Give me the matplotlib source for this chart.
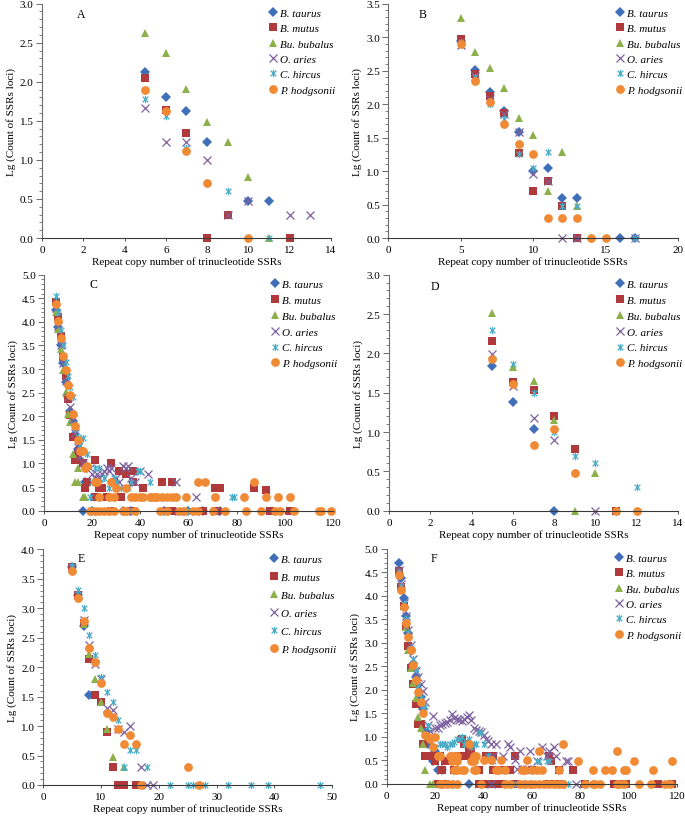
import matplotlib

matplotlib.use("Agg")
import matplotlib.pyplot as plt
from matplotlib.path import Path
from matplotlib.ticker import MultipleLocator, FormatStrFormatter

plt.rcParams["font.family"] = ["Liberation Serif", "DejaVu Serif"]

SPECIES = ["B. taurus", "B. mutus", "Bu. bubalus", "O. aries", "C. hircus", "P. hodgsonii"]
COLORS = ["#3F6FB8", "#B0393C", "#8CB04A", "#7E62A0", "#4BACC6", "#F08A35"]

# (repeat copy number, lg count) pairs
A_taurus = [(5, 2.13), (6, 1.80), (7, 1.62), (8, 1.23), (10, 0.48), (11, 0.48)]
A_mutus = [(5, 2.05), (6, 1.64), (7, 1.35), (8, 0.0), (9, 0.30), (12, 0.0)]
A_bubalus = [(5, 2.62), (6, 2.37), (7, 1.91), (8, 1.48), (9, 1.23), (10, 0.78), (11, 0.0)]
A_aries = [(5, 1.67), (6, 1.23), (7, 1.23), (8, 1.00), (9, 0.30), (10, 0.48), (12, 0.30), (13, 0.30)]
A_hircus = [(5, 1.78), (6, 1.56), (7, 1.15), (9, 0.60), (11, 0.0)]
A_hodgsonii = [(5, 1.89), (6, 1.62), (7, 1.11), (8, 0.70), (10, 0.0)]

B_taurus = [(5, 2.95), (6, 2.51), (7, 2.18), (8, 1.90), (9, 1.58), (10, 1.00), (11, 1.04), (12, 0.60),
            (13, 0.60), (16, 0.0), (17, 0.0)]
B_mutus = [(5, 2.97), (6, 2.45), (7, 2.12), (8, 1.86), (9, 1.27), (10, 0.70), (11, 0.85), (12, 0.48), (13, 0.0)]
B_bubalus = [(5, 3.28), (6, 2.78), (7, 2.54), (8, 2.24), (9, 1.80), (10, 1.54), (11, 0.70), (12, 1.28), (13, 0.48)]
B_aries = [(5, 2.89), (6, 2.42), (7, 2.08), (8, 1.85), (9, 1.58), (10, 0.95), (11, 0.85), (12, 0.0), (13, 0.0),
           (17, 0.0)]
B_hircus = [(5, 2.93), (6, 2.40), (7, 2.00), (8, 1.78), (9, 1.26), (10, 1.05), (11, 1.28), (12, 0.48), (13, 0.48),
            (17, 0.0)]
B_hodgsonii = [(5, 2.90), (6, 2.35), (7, 2.03), (8, 1.70), (9, 1.41), (10, 1.25), (11, 0.30), (12, 0.30),
               (13, 0.30), (14, 0.0), (15, 0.0)]

C_taurus = [(5, 4.25), (6, 3.90), (7, 3.52), (8, 3.13), (9, 2.72), (10, 2.40), (11, 2.12), (12, 1.90), (13, 1.62),
            (14, 1.30), (15, 1.08), (16, 1.00), (17, 0.60), (16, 0.0), (20, 0.0), (33, 0.0), (36, 0.0), (50, 0.0),
            (60, 0.0), (66, 0.0), (73, 0.0)]
C_mutus = [(5, 4.42), (6, 4.10), (7, 3.70), (8, 3.25), (9, 2.85), (10, 2.37), (11, 2.02), (12, 1.56), (13, 1.08),
           (14, 1.20), (15, 1.27), (16, 1.00), (17, 0.48), (18, 0.60), (21, 1.08), (21, 0.30), (23, 0.48),
           (24, 0.48), (26, 0.30), (28, 1.00), (29, 0.60), (31, 0.85), (32, 0.30), (34, 0.78), (37, 0.85),
           (37, 0.60), (41, 0.48), (49, 0.60), (53, 0.60), (71, 0.48), (73, 0.48), (87, 0.48), (92, 0.43),
           (28, 0.0), (36, 0.0), (51, 0.0), (53, 0.0), (66, 0.0), (72, 0.0), (94, 0.0), (102, 0.0)]
C_bubalus = [(5, 4.20), (6, 3.85), (7, 3.42), (8, 2.98), (9, 2.52), (10, 2.05), (11, 1.87), (12, 1.20), (13, 0.60),
             (14, 0.60), (14, 0.90), (16, 0.30), (17, 0.30)]
C_aries = [(5, 4.30), (6, 3.92), (7, 3.50), (8, 3.12), (9, 2.75), (10, 2.40), (11, 2.20), (12, 1.95), (13, 1.65),
           (14, 1.35), (15, 1.15), (16, 1.00), (19, 0.90), (20, 0.78), (21, 0.70), (22, 0.78), (23, 0.70),
           (24, 0.78), (25, 0.85), (26, 0.90), (27, 0.85), (28, 0.90), (30, 0.70), (31, 0.60), (33, 0.95),
           (34, 0.90), (35, 0.95), (36, 0.70), (38, 0.60), (40, 0.85), (43, 0.78), (55, 0.60), (63, 0.30),
           (37, 0.0), (56, 0.0), (71, 0.0)]
C_hircus = [(5, 4.55), (6, 4.20), (7, 3.82), (8, 3.52), (9, 3.15), (10, 2.85), (11, 2.62), (12, 2.40), (13, 1.72),
            (14, 1.57), (15, 1.40), (16, 1.55), (18, 1.20), (19, 0.30), (20, 0.60), (21, 0.90), (23, 0.90),
            (25, 0.70), (27, 0.48), (29, 0.70), (30, 0.60), (32, 0.48), (35, 0.48), (36, 0.60), (39, 0.85),
            (40, 0.85), (44, 0.60), (78, 0.30), (79, 0.30), (21, 0.0), (36, 0.0), (50, 0.0), (60, 0.0)]
C_hodgsonii = [(5, 4.37), (6, 4.02), (7, 3.65), (8, 3.28), (9, 2.97), (10, 2.67), (11, 2.46), (12, 2.05),
               (13, 1.80), (14, 1.50), (15, 1.27), (16, 1.27), (17, 0.90), (18, 0.95), (21, 0.60), (22, 0.60),
               (28, 0.60), (30, 0.48), (34, 0.48), (23, 0.30), (27, 0.30), (29, 0.30), (36, 0.30), (38, 0.30),
               (40, 0.30), (41, 0.30), (44, 0.30), (45, 0.30), (46, 0.30), (47, 0.30), (49, 0.30), (51, 0.30),
               (53, 0.30), (55, 0.30), (59, 0.30), (64, 0.60), (67, 0.60), (71, 0.30), (83, 0.30), (87, 0.60),
               (92, 0.30), (97, 0.30), (102, 0.30), (19, 0.0), (21, 0.0), (23, 0.0), (25, 0.0), (27, 0.0),
               (29, 0.0), (33, 0.0), (34, 0.0), (38, 0.0), (48, 0.0), (51, 0.0), (56, 0.0), (58, 0.0), (62, 0.0),
               (64, 0.0), (70, 0.0), (75, 0.0), (84, 0.0), (90, 0.0), (96, 0.0), (98, 0.0), (104, 0.0),
               (114, 0.0), (115, 0.0), (119, 0.0)]

D_taurus = [(5, 1.84), (6, 1.38), (7, 1.04), (8, 0.0)]
D_mutus = [(5, 2.16), (6, 1.63), (7, 1.53), (8, 1.20), (9, 0.78), (11, 0.0)]
D_bubalus = [(5, 2.51), (6, 1.83), (7, 1.65), (8, 1.15), (9, 0.0), (10, 0.48)]
D_aries = [(5, 1.99), (6, 1.58), (7, 1.18), (8, 0.90), (10, 0.0)]
D_hircus = [(5, 2.30), (6, 1.86), (7, 1.49), (8, 1.00), (9, 0.70), (10, 0.60), (12, 0.30)]
D_hodgsonii = [(5, 1.93), (6, 1.61), (7, 0.84), (8, 1.04), (9, 0.48), (11, 0.0), (12, 0.0)]

E_taurus = [(5, 3.70), (6, 3.22), (7, 2.70), (8, 1.53)]
E_mutus = [(5, 3.70), (6, 3.22), (7, 2.75), (8, 2.13), (9, 1.53), (10, 1.40), (11, 0.90), (12, 0.30), (13, 0.0),
           (14, 0.0), (16, 0.0)]
E_bubalus = [(5, 3.70), (6, 3.20), (7, 2.73), (8, 2.22), (9, 1.80), (10, 1.41), (11, 0.95), (12, 0.48), (14, 0.30)]
E_aries = [(5, 3.68), (6, 3.22), (7, 2.80), (8, 2.38), (9, 2.06), (10, 1.80), (11, 1.30), (12, 1.28), (13, 0.95),
           (14, 0.90), (15, 1.00), (17, 0.30), (18, 0.0), (19, 0.0)]
E_hircus = [(5, 3.72), (6, 3.31), (7, 3.00), (8, 2.54), (9, 2.20), (10, 1.83), (11, 1.58), (12, 1.40), (13, 1.11),
            (14, 0.30), (15, 0.60), (16, 0.60), (18, 0.30), (22, 0.0), (25, 0.0), (26, 0.0), (28, 0.0), (32, 0.0),
            (36, 0.0), (39, 0.0), (48, 0.0)]
E_hodgsonii = [(5, 3.64), (6, 3.18), (7, 2.78), (8, 2.33), (9, 2.09), (10, 1.73), (11, 1.23), (12, 1.15),
               (13, 0.95), (14, 0.70), (15, 0.85), (16, 0.70), (17, 0.0), (25, 0.30), (27, 0.0)]

F_taurus = [(5, 4.69), (6, 4.38), (7, 3.96), (8, 3.57), (9, 3.20), (10, 2.83), (11, 2.55), (12, 2.28), (13, 2.10),
            (14, 1.85), (15, 1.60), (16, 1.12), (17, 0.86), (19, 0.48), (20, 0.70), (21, 0.30), (23, 0.30),
            (34, 0.0)]
F_mutus = [(5, 4.52), (6, 4.18), (7, 3.78), (8, 3.35), (9, 2.93), (10, 2.47), (11, 2.12), (12, 1.69), (13, 1.28),
           (14, 1.28), (15, 0.85), (16, 0.60), (17, 0.60), (19, 0.60), (22, 0.60), (20, 0.48), (24, 0.48),
           (25, 0.48), (23, 0.30), (31, 0.96), (32, 0.85), (34, 0.71), (35, 0.71), (30, 0.60), (33, 0.60),
           (28, 0.30), (38, 0.30), (44, 0.30), (47, 0.30), (51, 0.30), (41, 0.60), (44, 0.60), (53, 0.60),
           (60, 0.30), (67, 0.60), (68, 0.48), (71, 0.30), (77, 0.30), (21, 0.0), (22, 0.0), (24, 0.0), (38, 0.0),
           (40, 0.0), (42, 0.0), (44, 0.0), (46, 0.0), (48, 0.0), (53, 0.0), (66, 0.0), (68, 0.0), (71, 0.0),
           (82, 0.0), (94, 0.0), (97, 0.0), (99, 0.0), (112, 0.0), (118, 0.0)]
F_bubalus = [(5, 4.50), (6, 4.20), (7, 3.80), (8, 3.33), (9, 2.85), (10, 2.47), (11, 2.15), (12, 1.83), (13, 1.42),
             (14, 1.18), (15, 0.85), (16, 0.30), (18, 0.0), (19, 0.0), (26, 0.0), (27, 0.0)]
F_aries = [(5, 4.55), (6, 4.25), (7, 3.85), (8, 3.58), (9, 3.27), (10, 2.95), (11, 2.65), (12, 2.40), (13, 2.28),
           (14, 2.12), (15, 1.98), (16, 1.75), (17, 1.26), (18, 1.12), (19, 1.45), (20, 1.18), (21, 1.20),
           (22, 1.25), (23, 1.28), (24, 1.30), (25, 1.32), (26, 1.35), (27, 1.49), (28, 1.40), (29, 1.38),
           (30, 1.36), (31, 1.33), (32, 1.38), (33, 1.42), (34, 1.47), (35, 1.35), (36, 1.20), (37, 1.15),
           (38, 1.13), (39, 1.10), (40, 1.05), (41, 0.95), (42, 0.92), (43, 0.85), (45, 0.85), (44, 0.60),
           (48, 0.60), (50, 0.85), (51, 0.78), (53, 0.50), (55, 0.71), (54, 0.32), (56, 0.32), (58, 0.32),
           (59, 0.71), (62, 0.48), (64, 0.78), (66, 0.60), (67, 0.71), (69, 0.78), (70, 0.60), (74, 0.48),
           (75, 0.48), (43, 0.0), (58, 0.0), (72, 0.0), (78, 0.0)]
F_hircus = [(5, 4.50), (6, 4.20), (7, 3.82), (8, 3.50), (9, 3.20), (10, 2.90), (11, 2.65), (12, 2.45), (13, 2.10),
            (14, 1.85), (15, 1.65), (16, 1.65), (17, 1.23), (18, 0.95), (20, 0.78), (22, 0.85), (23, 0.85),
            (24, 0.85), (25, 0.78), (26, 0.85), (27, 0.85), (28, 0.90), (29, 0.96), (30, 0.96), (31, 1.00),
            (32, 0.85), (33, 0.90), (34, 0.95), (35, 0.78), (36, 0.85), (37, 0.85), (38, 1.10), (39, 1.08),
            (40, 0.85), (42, 0.60), (44, 0.48), (46, 0.30), (47, 0.30), (48, 0.30), (49, 0.30), (62, 0.48),
            (63, 0.48), (66, 0.48), (67, 0.48), (28, 0.0), (52, 0.0), (54, 0.0), (75, 0.0), (83, 0.0),
            (95, 0.0), (97, 0.0)]
F_hodgsonii = [(5, 4.45), (6, 4.12), (7, 3.77), (8, 3.43), (9, 3.12), (10, 2.85), (11, 2.52), (12, 2.20),
               (13, 1.96), (14, 1.74), (15, 1.50), (16, 1.05), (17, 1.00), (18, 0.95), (19, 0.78), (20, 1.00),
               (21, 0.60), (22, 0.60), (26, 0.60), (27, 0.60), (28, 0.60), (29, 0.60), (36, 0.60), (37, 0.60),
               (27, 0.48), (29, 0.48), (35, 0.48), (36, 0.48), (40, 0.50), (43, 0.50), (47, 0.50), (58, 0.50),
               (34, 0.85), (63, 0.71), (73, 0.85), (95, 0.71), (79, 0.48), (102, 0.48), (118, 0.48), (28, 0.30),
               (29, 0.30), (31, 0.30), (32, 0.30), (36, 0.30), (37, 0.30), (45, 0.30), (46, 0.30), (49, 0.30),
               (56, 0.30), (57, 0.30), (60, 0.30), (62, 0.30), (64, 0.30), (71, 0.30), (85, 0.30), (90, 0.30),
               (93, 0.30), (98, 0.30), (99, 0.30), (110, 0.30), (22, 0.0), (23, 0.0), (25, 0.0), (27, 0.0),
               (29, 0.0), (39, 0.0), (49, 0.0), (51, 0.0), (55, 0.0), (57, 0.0), (59, 0.0), (61, 0.0), (63, 0.0),
               (65, 0.0), (67, 0.0), (69, 0.0), (71, 0.0), (73, 0.0), (82, 0.0), (85, 0.0), (86, 0.0), (88, 0.0),
               (95, 0.0), (96, 0.0), (98, 0.0), (104, 0.0), (109, 0.0), (115, 0.0), (117, 0.0)]

PANELS = {
    "A": [A_taurus, A_mutus, A_bubalus, A_aries, A_hircus, A_hodgsonii],
    "B": [B_taurus, B_mutus, B_bubalus, B_aries, B_hircus, B_hodgsonii],
    "C": [C_taurus, C_mutus, C_bubalus, C_aries, C_hircus, C_hodgsonii],
    "D": [D_taurus, D_mutus, D_bubalus, D_aries, D_hircus, D_hodgsonii],
    "E": [E_taurus, E_mutus, E_bubalus, E_aries, E_hircus, E_hodgsonii],
    "F": [F_taurus, F_mutus, F_bubalus, F_aries, F_hircus, F_hodgsonii],
}
X_MAX = {"A": 14, "B": 20, "C": 120, "D": 14, "E": 50, "F": 120}
X_STEP = {"A": 2, "B": 5, "C": 20, "D": 2, "E": 10, "F": 20}
Y_MAX = {"A": 3.0, "B": 3.5, "C": 5.0, "D": 3.0, "E": 4.0, "F": 5.0}

# axes boxes in figure fraction: left, bottom, width, height
BOXES = {
    "A": (0.0613, 0.7085, 0.4219, 0.2858),
    "B": (0.5669, 0.7085, 0.4229, 0.2858),
    "C": (0.0642, 0.3760, 0.4219, 0.2878),
    "D": (0.5679, 0.3760, 0.4219, 0.2878),
    "E": (0.0632, 0.0415, 0.4215, 0.2874),
    "F": (0.5645, 0.0427, 0.4243, 0.2869),
}
LETTER_POS = {"A": (0.137, 0.956), "B": (0.12, 0.956), "C": (0.17, 0.96),
              "D": (0.16, 0.95), "E": (0.13, 0.963), "F": (0.164, 0.96)}
LEGEND_SPACING = {"A": 0.5, "B": 0.5, "C": 0.55, "D": 0.55, "E": 0.75, "F": 0.5}

STAR = Path([(-1, -1), (1, 1), (-1, 1), (1, -1), (0, -1.3), (0, 1.3)],
            [Path.MOVETO, Path.LINETO, Path.MOVETO, Path.LINETO, Path.MOVETO, Path.LINETO])
MARKERS = [
    dict(marker="D", ms=4.8, mew=0),
    dict(marker="s", ms=5.8, mew=0),
    dict(marker="^", ms=6.3, mew=0),
    dict(marker="x", ms=5.3, mew=0.9),
    dict(marker=STAR, ms=5.3, mew=0.9),
    dict(marker="o", ms=6.3, mew=0),
]


def draw_panel(fig, name):
    ax = fig.add_axes(BOXES[name])
    for pts, label, color, mk in zip(PANELS[name], SPECIES, COLORS, MARKERS):
        xs = [p[0] for p in pts]
        ys = [p[1] for p in pts]
        ax.plot(xs, ys, ls="none", color=color, label=label, clip_on=False, **mk)

    ax.set_xlim(0, X_MAX[name])
    ax.set_ylim(0, Y_MAX[name])
    ax.xaxis.set_major_locator(MultipleLocator(X_STEP[name]))
    ax.yaxis.set_major_locator(MultipleLocator(0.5))
    ax.yaxis.set_minor_locator(MultipleLocator(0.1))
    ax.yaxis.set_major_formatter(FormatStrFormatter("%.1f"))
    for side in ("top", "right"):
        ax.spines[side].set_visible(False)
    ax.spines["left"].set_color("#6b6b6b")
    ax.spines["bottom"].set_color("#3a3a3a")
    ax.spines["left"].set_linewidth(0.8)
    ax.spines["bottom"].set_linewidth(0.8)
    ax.tick_params(axis="y", which="major", length=4, width=0.7, color="#6b6b6b", labelsize=8, pad=2)
    ax.tick_params(axis="y", which="minor", length=2.5, width=0.6, color="#6b6b6b")
    ax.tick_params(axis="x", which="major", length=2, width=0.6, color="#3a3a3a", labelsize=8, pad=3)
    ax.set_xlabel("Repeat copy number of trinucleotide SSRs", fontsize=8, labelpad=2)
    ax.set_ylabel("Lg (Count of SSRs loci)", fontsize=8, labelpad=3)
    lx, ly = LETTER_POS[name]
    ax.text(lx, ly, name, transform=ax.transAxes, fontsize=8.5, ha="center", va="center")
    ax.legend(loc="upper left", bbox_to_anchor=(0.765, 1.0), frameon=False,
              prop={"family": "Liberation Serif", "style": "italic", "size": 8},
              handlelength=1.0, handletextpad=0.15, labelspacing=LEGEND_SPACING[name],
              borderaxespad=0.2, borderpad=0.2, numpoints=1)
    return ax


fig = plt.figure(figsize=(6.85, 8.2), dpi=100)
for panel in PANELS:
    draw_panel(fig, panel)
fig.savefig("out.png", dpi=100)
plt.close(fig)
